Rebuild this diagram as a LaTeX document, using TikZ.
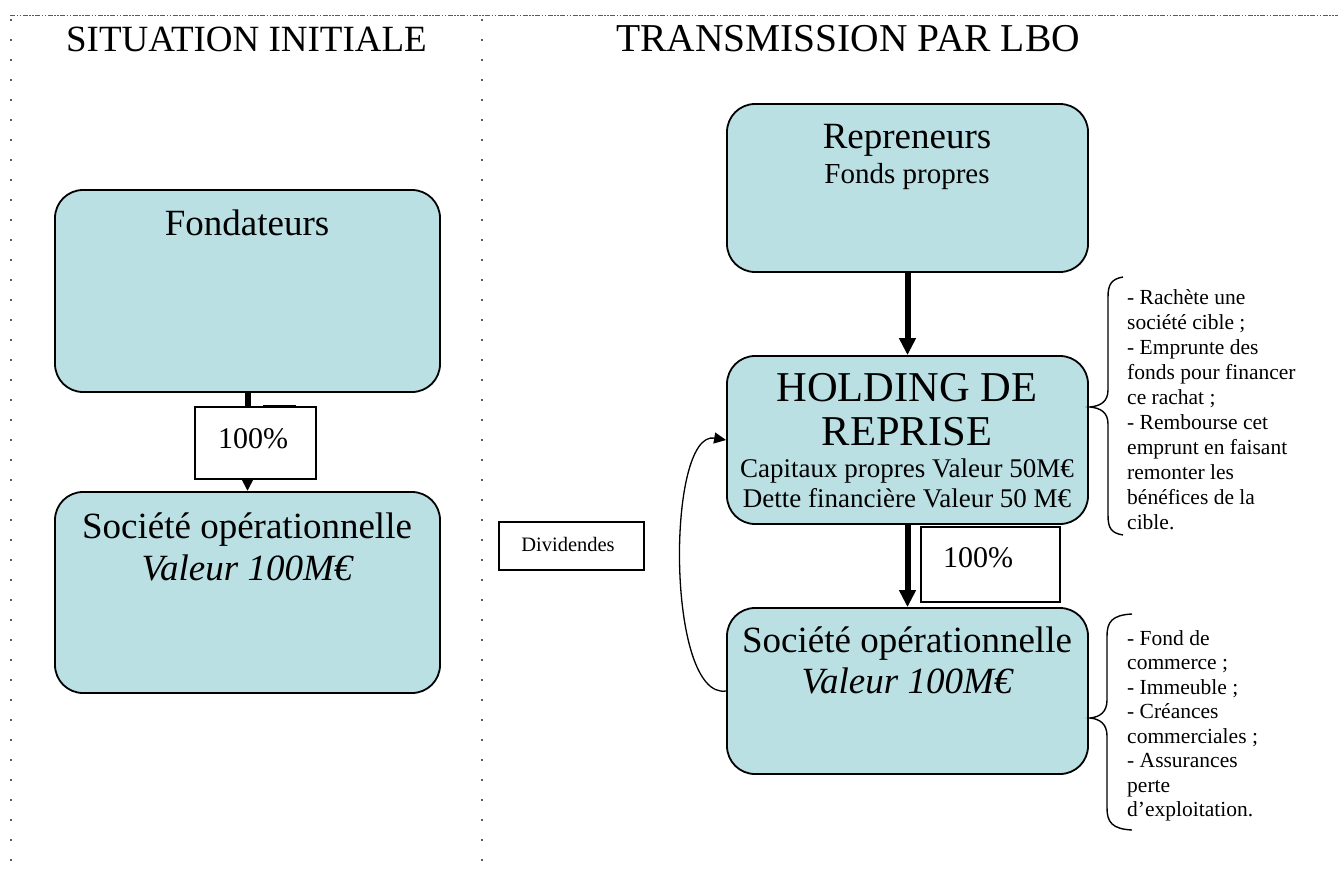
\documentclass[tikz,border=0pt]{standalone}
\usepackage{fontspec}
\setmainfont{Liberation Serif}
\usetikzlibrary{arrows.meta}
\definecolor{boxfill}{RGB}{187,224,227}
\definecolor{framegray}{RGB}{90,90,90}
\tikzset{
  rbox/.style={draw=black, line width=1.8pt, fill=boxfill, rounded corners=28pt, inner sep=0pt},
  pbox/.style={draw=black, line width=1.8pt, fill=white, inner sep=0pt},
  txt/.style={anchor=base, inner sep=0pt},
  big/.style={font=\fontsize{37}{44}\selectfont},
  mid/.style={font=\fontsize{29}{33}\selectfont},
  small/.style={font=\fontsize{27}{31}\selectfont},
  note/.style={anchor=base west, inner sep=0pt, font=\fontsize{21.5}{25}\selectfont},
  thickarrow/.style={line width=6pt, -{Triangle[length=17pt,width=16pt]}},
  thinarrow/.style={line width=1.3pt, -{Triangle[length=12pt,width=11pt]}},
  topline/.style={framegray, line width=1pt, dash pattern=on 5pt off 1.5pt on 1.5pt off 1.5pt on 1.5pt off 1.5pt},
  dotline/.style={framegray, line width=2pt, dash pattern=on 2pt off 18pt},
  bracestyle/.style={line width=1.4pt}
}
\begin{document}
\begin{tikzpicture}[x=1pt,y=-1pt]
\useasboundingbox (0,0) rectangle (1338,875);
% frame
\draw[topline] (10,15.5) -- (1338,15.5);
\draw[dotline] (11,19) -- (11,862);
\draw[dotline] (482,19) -- (482,862);
% titles
\node[txt, big] (t1) at (246.5,52) {SITUATION INITIALE};
\node[txt, font=\fontsize{39.5}{44}\selectfont] (t2) at (848,52) {TRANSMISSION PAR LBO};
% left column
\node[rbox, minimum width=385pt, minimum height=202pt] (fond) at (247.5,291) {};
\node[rbox, minimum width=385pt, minimum height=201pt] (soc1) at (247.5,592.5) {};
\node[txt, big] (fondt) at (247,235) {Fondateurs};
\node[txt, big] (soc1a) at (247,538) {Société opérationnelle};
\node[txt, big] (soc1b) at (247,580) {\itshape Valeur 100M€};
\draw[thickarrow] (fond.south) -- (soc1.north);
\draw[line width=2pt] (263,405.5) -- (296,405.5);
\node[pbox, minimum width=121pt, minimum height=72pt] (pct1) at (255.5,443) {};
\node[txt, font=\fontsize{30}{34}\selectfont] (pct1t) at (253,448) {100\%};
% right column
\node[rbox, minimum width=361pt, minimum height=168pt] (rep) at (907.5,188) {};
\node[rbox, minimum width=361pt, minimum height=168pt] (hold) at (907.5,440) {};
\node[rbox, minimum width=361pt, minimum height=166pt] (soc2) at (907.5,691) {};
\node[txt, big] (rept) at (907,148) {Repreneurs};
\node[txt, mid] (repb) at (907,183) {Fonds propres};
\node[txt, font=\fontsize{42.5}{44}\selectfont] (holda) at (907,401) {HOLDING DE};
\node[txt, font=\fontsize{42.5}{44}\selectfont] (holdb) at (907,445) {REPRISE};
\node[txt, small] (holdc) at (907,477) {Capitaux propres Valeur 50M€};
\node[txt, small] (holdd) at (907,507) {Dette financière Valeur 50 M€};
\node[txt, big] (soc2a) at (907,652) {Société opérationnelle};
\node[txt, big] (soc2b) at (907,693) {\itshape Valeur 100M€};
\draw[thickarrow] (rep.south) -- (hold.north);
\draw[thickarrow] (hold.south) -- (soc2.north);
\node[pbox, minimum width=139pt, minimum height=75pt] (pct2) at (990.5,564.5) {};
\node[txt, font=\fontsize{30}{34}\selectfont] (pct2t) at (978,567) {100\%};
% dividends
\draw[thinarrow] (soc2.west) .. controls (666,700) and (666,430) .. (hold.west);
\node[pbox, minimum width=145pt, minimum height=48pt] (div) at (571.5,546) {};
\node[txt, font=\fontsize{20.5}{24}\selectfont] (divt) at (568,551) {Dividendes};
% braces
\draw[bracestyle] (1123,277) .. controls (1111,279) and (1108,285) .. (1108,297) -- (1108,390)
  .. controls (1108,402) and (1100,406) .. (1090,407)
  .. controls (1100,408) and (1108,412) .. (1108,424) -- (1108,515)
  .. controls (1108,528) and (1111,533) .. (1123,535);
\draw[bracestyle] (1132,614) .. controls (1112,615) and (1107,622) .. (1107,636) -- (1107,700)
  .. controls (1107,712) and (1100,717) .. (1090,718)
  .. controls (1100,719) and (1107,724) .. (1107,736) -- (1107,808)
  .. controls (1107,822) and (1112,829) .. (1132,830);
\node[note] (n1) at (1127,304) {- Rachète une};
\node[note] (n2) at (1127,329) {société cible ;};
\node[note] (n3) at (1127,354) {- Emprunte des};
\node[note] (n4) at (1127,379) {fonds pour financer};
\node[note] (n5) at (1127,404) {ce rachat ;};
\node[note] (n6) at (1127,429) {- Rembourse cet};
\node[note] (n7) at (1127,454) {emprunt en faisant};
\node[note] (n8) at (1127,479) {remonter les};
\node[note] (n9) at (1127,504) {bénéfices de la};
\node[note] (n10) at (1127,529) {cible.};
\node[note] (m1) at (1127,645) {- Fond de};
\node[note] (m2) at (1127,669.5) {commerce ;};
\node[note] (m3) at (1127,694) {- Immeuble ;};
\node[note] (m4) at (1127,718.5) {- Créances};
\node[note] (m5) at (1127,743) {commerciales ;};
\node[note] (m6) at (1127,767.5) {- Assurances};
\node[note] (m7) at (1127,792) {perte};
\node[note] (m8) at (1127,816.5) {d’exploitation.};
\end{tikzpicture}
\end{document}
